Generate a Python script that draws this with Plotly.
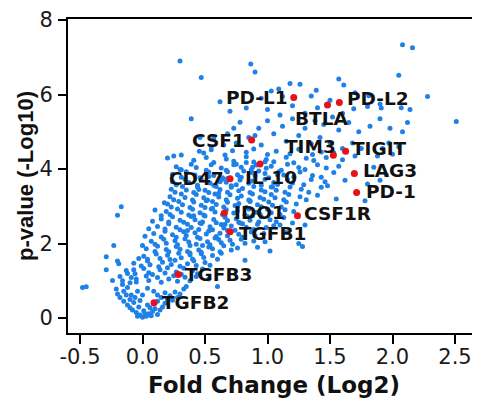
import plotly.graph_objects as go

# ---------------- data ----------------
# labelled genes (Fold Change Log2, -Log10 p-value)
gene_names = ["PD-L1", "BTLA", "PD-L2", "CSF1", "TIM3", "TIGIT", "IL-10", "CD47",
              "LAG3", "PD-1", "IDO1", "CSF1R", "TGFB1", "TGFB3", "TGFB2"]
gene_fc = [1.21, 1.48, 1.575, 0.873, 1.527, 1.625, 0.94, 0.70,
           1.695, 1.713, 0.655, 1.24, 0.70, 0.287, 0.092]
gene_logp = [5.92, 5.72, 5.79, 4.78, 4.37, 4.48, 4.14, 3.74,
             3.88, 3.37, 2.82, 2.75, 2.32, 1.17, 0.41]

# all other genes as (fold change, -log10 p)
background_genes = [
    # bottom of the V
    (0.0, 0.02), (-0.02, 0.08), (0.03, 0.05), (0.05, 0.12), (-0.05, 0.15), (0.08, 0.18),
    (-0.08, 0.22), (0.01, 0.2), (0.1, 0.25), (-0.1, 0.28), (0.12, 0.1), (0.06, 0.28),
    (-0.03, 0.3), (0.14, 0.22), (0.04, 0.35), (-0.12, 0.35), (0.16, 0.3), (0.09, 0.38),
    (-0.07, 0.42), (0.02, 0.12), (-0.04, 0.05), (0.07, 0.06),
    # two arms
    (-0.15, 0.45), (-0.18, 0.55), (-0.1, 0.5), (-0.2, 0.65), (-0.13, 0.62), (-0.06, 0.55),
    (0.12, 0.45), (0.18, 0.4), (0.2, 0.5), (0.15, 0.55), (0.24, 0.48), (0.22, 0.6),
    (0.28, 0.55), (0.3, 0.65), (0.18, 0.68), (0.26, 0.7), (0.12, 0.62), (0.33, 0.78),
    (0.35, 0.85), (-0.15, 0.72), (-0.12, 0.82), (-0.09, 0.62), (-0.04, 0.72), (-0.02, 0.47),
    (0.0, 0.62), (-0.16, 0.9), (-0.1, 0.95), (-0.21, 0.78), (0.04, 0.8), (0.09, 0.72),
    # far left outliers
    (-0.48, 0.82), (-0.45, 0.84), (-0.29, 1.65), (-0.29, 1.3), (-0.23, 1.95), (-0.19, 1.46),
    (-0.2, 1.53), (-0.2, 2.76), (-0.17, 2.99), (-0.24, 1.01), (-0.12, 1.2), (-0.07, 1.3),
    (-0.05, 1.05), (-0.18, 1.12), (0.6, 0.85), (0.53, 1.05),
    # main band, bottom to top
    (-0.16, 1.0), (-0.09, 1.09), (-0.05, 0.97), (0.03, 1.13), (0.05, 1.01), (0.12, 1.09),
    (0.15, 0.96), (0.21, 1.05), (0.25, 1.14), (0.28, 0.99), (0.34, 1.1), (0.38, 1.0), (0.43, 1.12),
    (-0.13, 1.28), (-0.06, 1.19), (0.01, 1.33), (0.05, 1.22), (0.08, 1.17), (0.14, 1.3),
    (0.18, 1.21), (0.2, 1.35), (0.27, 1.24), (0.31, 1.18), (0.33, 1.34), (0.4, 1.27), (0.44, 1.19),
    (0.48, 1.32),
    (-0.07, 1.47), (-0.01, 1.4), (0.04, 1.53), (0.06, 1.43), (0.13, 1.38), (0.16, 1.5),
    (0.23, 1.44), (0.26, 1.55), (0.3, 1.39), (0.36, 1.46), (0.41, 1.54), (0.43, 1.41), (0.5, 1.49),
    (0.54, 1.42),
    (0.01, 1.66), (0.04, 1.58), (0.11, 1.72), (0.14, 1.6), (0.2, 1.69), (0.22, 1.57), (0.29, 1.74),
    (0.31, 1.62), (0.38, 1.7), (0.4, 1.59), (0.47, 1.73), (0.49, 1.63), (0.56, 1.68), (0.6, 1.58),
    (0.63, 1.74),
    (0.03, 1.86), (0.1, 1.79), (0.12, 1.93), (0.19, 1.84), (0.21, 1.78), (0.27, 1.92), (0.3, 1.85),
    (0.36, 1.79), (0.38, 1.95), (0.45, 1.83), (0.47, 1.77), (0.53, 1.91), (0.56, 1.86), (0.62, 1.78),
    (0.65, 1.94), (0.71, 1.83), (0.76, 1.88),
    (0.07, 2.06), (0.1, 1.98), (0.17, 2.12), (0.19, 2.01), (0.26, 2.08), (0.28, 1.97), (0.34, 2.13),
    (0.37, 2.04), (0.43, 1.98), (0.46, 2.14), (0.52, 2.05), (0.54, 1.97), (0.61, 2.11), (0.63, 2.02),
    (0.7, 2.09), (0.72, 1.98), (0.79, 2.12), (0.82, 2.01), (0.89, 2.07),
    (0.09, 2.27), (0.15, 2.18), (0.18, 2.33), (0.24, 2.24), (0.27, 2.17), (0.33, 2.32), (0.35, 2.22),
    (0.42, 2.29), (0.44, 2.17), (0.51, 2.26), (0.53, 2.34), (0.59, 2.19), (0.62, 2.28), (0.68, 2.21),
    (0.71, 2.33), (0.77, 2.25), (0.8, 2.17), (0.87, 2.31), (0.9, 2.21), (0.97, 2.27),
    (0.12, 2.46), (0.18, 2.39), (0.21, 2.53), (0.27, 2.44), (0.3, 2.37), (0.36, 2.52), (0.39, 2.43),
    (0.45, 2.38), (0.47, 2.54), (0.54, 2.45), (0.56, 2.37), (0.63, 2.51), (0.65, 2.42), (0.71, 2.47),
    (0.74, 2.36), (0.8, 2.53), (0.83, 2.44), (0.89, 2.38), (0.92, 2.52), (0.99, 2.43), (1.05, 2.48),
    (0.15, 2.66), (0.21, 2.58), (0.24, 2.72), (0.3, 2.63), (0.33, 2.57), (0.39, 2.73), (0.42, 2.64),
    (0.48, 2.58), (0.5, 2.74), (0.57, 2.65), (0.59, 2.56), (0.66, 2.71), (0.68, 2.62), (0.75, 2.67),
    (0.77, 2.57), (0.84, 2.73), (0.86, 2.63), (0.93, 2.58), (0.95, 2.72), (1.02, 2.64), (1.07, 2.59),
    (1.13, 2.7),
    (0.19, 2.86), (0.22, 2.78), (0.28, 2.93), (0.31, 2.84), (0.37, 2.77), (0.4, 2.92), (0.46, 2.83),
    (0.49, 2.77), (0.55, 2.93), (0.58, 2.85), (0.64, 2.78), (0.67, 2.91), (0.73, 2.82), (0.76, 2.88),
    (0.82, 2.77), (0.85, 2.93), (0.91, 2.84), (0.94, 2.79), (1.0, 2.92), (1.03, 2.83), (1.1, 2.78),
    (1.14, 2.91), (1.21, 2.86),
    (0.2, 3.06), (0.23, 2.98), (0.29, 3.13), (0.32, 3.04), (0.38, 2.97), (0.41, 3.12), (0.47, 3.03),
    (0.5, 2.97), (0.56, 3.13), (0.59, 3.05), (0.65, 2.98), (0.68, 3.11), (0.74, 3.02), (0.77, 3.08),
    (0.83, 2.97), (0.86, 3.13), (0.92, 3.04), (0.95, 2.99), (1.01, 3.12), (1.04, 3.03), (1.11, 2.98),
    (1.15, 3.12), (1.23, 3.06),
    (0.22, 3.26), (0.25, 3.18), (0.31, 3.33), (0.34, 3.24), (0.4, 3.17), (0.43, 3.32), (0.49, 3.23),
    (0.52, 3.17), (0.58, 3.33), (0.61, 3.25), (0.67, 3.18), (0.7, 3.31), (0.76, 3.22), (0.79, 3.28),
    (0.85, 3.17), (0.88, 3.33), (0.94, 3.24), (0.97, 3.19), (1.03, 3.32), (1.06, 3.23), (1.13, 3.18),
    (1.17, 3.32), (1.26, 3.26), (1.31, 3.18),
    (0.23, 3.46), (0.26, 3.38), (0.32, 3.53), (0.35, 3.44), (0.41, 3.37), (0.44, 3.52), (0.5, 3.43),
    (0.53, 3.37), (0.59, 3.53), (0.62, 3.45), (0.68, 3.38), (0.71, 3.51), (0.77, 3.42), (0.8, 3.48),
    (0.86, 3.37), (0.89, 3.53), (0.95, 3.44), (0.98, 3.39), (1.04, 3.52), (1.07, 3.43), (1.14, 3.38),
    (1.18, 3.52), (1.27, 3.46), (1.33, 3.38), (1.43, 3.51),
    (0.24, 3.66), (0.27, 3.58), (0.34, 3.73), (0.37, 3.64), (0.44, 3.57), (0.47, 3.72), (0.54, 3.63),
    (0.57, 3.57), (0.64, 3.73), (0.67, 3.65), (0.75, 3.58), (0.78, 3.71), (0.85, 3.62), (0.88, 3.68),
    (0.95, 3.57), (0.98, 3.73), (1.05, 3.64), (1.08, 3.59), (1.16, 3.72), (1.2, 3.63), (1.29, 3.58),
    (1.35, 3.72), (1.46, 3.66),
    (0.24, 3.86), (0.31, 3.78), (0.35, 3.93), (0.42, 3.84), (0.46, 3.77), (0.53, 3.92), (0.57, 3.83),
    (0.64, 3.77), (0.68, 3.93), (0.76, 3.85), (0.79, 3.78), (0.87, 3.91), (0.9, 3.82), (0.98, 3.88),
    (1.01, 3.77), (1.09, 3.93), (1.13, 3.84), (1.21, 3.79), (1.26, 3.92), (1.36, 3.83), (1.43, 3.78),
    (1.53, 3.91),
    (0.27, 4.06), (0.31, 3.98), (0.39, 4.13), (0.43, 4.04), (0.51, 3.97), (0.55, 4.12), (0.63, 4.03),
    (0.67, 3.97), (0.75, 4.13), (0.79, 4.05), (0.87, 3.98), (0.91, 4.11), (0.99, 4.02), (1.03, 4.08),
    (1.11, 3.97), (1.16, 4.13), (1.25, 4.04), (1.3, 3.99), (1.4, 4.12), (1.47, 4.03), (1.57, 4.08),
    (0.2, 4.3), (0.25, 4.35), (0.31, 4.38), (0.41, 4.24), (0.51, 4.31), (0.57, 4.18), (0.67, 4.27),
    (0.73, 4.21), (0.83, 4.33), (0.89, 4.19), (0.99, 4.26), (1.05, 4.2), (1.15, 4.32), (1.21, 4.17),
    (1.31, 4.29), (1.37, 4.23), (1.47, 4.31), (1.6, 4.25),
    (0.49, 4.43), (0.55, 4.52), (0.66, 4.38), (0.72, 4.49), (0.83, 4.45), (0.89, 4.54), (1.0, 4.39),
    (1.07, 4.48), (1.18, 4.41), (1.25, 4.53), (1.36, 4.39), (1.43, 4.46), (1.53, 4.44),
    # extra density in the core
    (0.58, 3.55), (0.68, 3.75), (0.78, 3.78), (0.88, 4.05), (0.98, 4.2), (1.08, 3.85),
    (0.62, 3.66), (0.73, 4.12), (0.83, 4.18), (0.93, 3.95), (1.03, 3.52), (0.53, 3.8),
    (0.45, 3.45), (0.46, 2.55), (0.56, 2.95), (0.66, 2.52), (0.76, 2.98), (0.86, 3.15),
    (0.36, 2.35), (0.41, 2.75), (0.51, 3.15), (0.61, 3.35), (0.71, 3.55), (0.81, 3.95),
    (0.38, 1.75), (0.48, 1.95), (0.58, 2.15), (0.68, 2.35), (0.78, 2.55), (0.88, 2.75),
    (0.175, 3.1), (0.3, 3.99), (0.455, 4.48), (0.1, 2.9), (0.08, 2.6), (0.05, 2.4), (0.02, 2.2),
    (0.0, 1.95), (-0.03, 1.6), (0.15, 2.75),
    # sparse right part and top
    (1.3, 2.5), (1.28, 1.92), (1.25, 2.0), (1.02, 1.8), (0.82, 1.55), (1.15, 2.3), (1.2, 2.55),
    (1.1, 2.5), (0.92, 1.9), (0.98, 2.05),
    (1.4, 3.3), (1.48, 3.55), (1.55, 3.2), (1.62, 3.7), (1.7, 4.35), (1.78, 3.15), (1.8, 3.6),
    (1.85, 4.05), (1.88, 4.35), (1.92, 4.55), (1.97, 4.7), (2.0, 4.4), (2.05, 4.6), (1.95, 3.85),
    (1.9, 3.7), (1.75, 4.55), (1.68, 4.7), (1.6, 4.55), (1.5, 4.7), (1.42, 4.85), (1.57, 5.05),
    (1.65, 5.25), (1.73, 5.0), (1.82, 5.15), (1.9, 5.35), (1.98, 5.1), (2.08, 5.0), (2.12, 5.25),
    (2.14, 5.6), (2.07, 5.65), (1.91, 5.64), (1.8, 5.68), (1.69, 5.62), (1.6, 5.5), (1.52, 5.4),
    (1.45, 5.2), (1.38, 5.3), (1.3, 5.1), (1.25, 4.9), (1.2, 5.35), (1.12, 5.15), (1.05, 4.95),
    (1.0, 5.3), (0.93, 5.1), (0.85, 4.85), (0.78, 5.26), (0.73, 5.1), (0.83, 5.64), (0.7, 5.55),
    (0.62, 5.81), (0.57, 4.83), (0.46, 4.85), (0.39, 5.35), (0.65, 4.65), (0.55, 4.6), (0.75, 4.7),
    (0.95, 4.65), (1.15, 4.75), (1.35, 4.68), (0.68, 4.95), (0.9, 4.9), (1.1, 5.45), (1.3, 5.5),
    (1.4, 5.65), (1.0, 5.6), (1.2, 5.7), (1.5, 5.85), (1.35, 5.96), (1.39, 6.12), (1.03, 6.1),
    (1.09, 6.15), (1.18, 6.3), (1.26, 6.28), (1.57, 6.42), (1.61, 6.26), (1.81, 5.97), (1.9, 5.75),
    (2.05, 6.52), (2.28, 5.95), (2.51, 5.28), (0.47, 6.46), (0.3, 6.9), (0.866, 6.82), (0.9, 6.61),
    (2.08, 7.34), (2.16, 7.26), (0.95, 5.9), (1.12, 5.95), (1.7, 6.05),
]

x_tick_values = [-0.5, 0.0, 0.5, 1.0, 1.5, 2.0, 2.5]
x_tick_labels = ["-0.5", "0.0", "0.5", "1.0", "1.5", "2.0", "2.5"]
y_tick_values = [0, 2, 4, 6, 8]

bg_fc = [p[0] for p in background_genes]
bg_logp = [p[1] for p in background_genes]

# ---------------- styling / layout ----------------
# label placement relative to its point (pixels): anchor, xshift, yshift
label_style = {
    "PD-L1": ("right", -5, 0), "BTLA": ("center", -6, -13), "PD-L2": ("left", 7, 4),
    "CSF1": ("right", -6, 0), "TIM3": ("right", 4, 9), "TIGIT": ("left", 5, 3),
    "IL-10": ("center", 11, -14), "CD47": ("right", -5, 0), "LAG3": ("left", 8, 3),
    "PD-1": ("left", 8, 1), "IDO1": ("left", 9, 1), "CSF1R": ("left", 5, 2),
    "TGFB1": ("left", 8, -2), "TGFB3": ("left", 6, 0), "TGFB2": ("left", 7, 0),
}

fig = go.Figure()
fig.add_trace(go.Scatter(
    x=bg_fc, y=bg_logp, mode="markers",
    marker=dict(color="#1f80e6", size=5, line=dict(width=0)),
    hoverinfo="skip", showlegend=False,
))
fig.add_trace(go.Scatter(
    x=gene_fc, y=gene_logp, mode="markers",
    marker=dict(color="#e8101a", size=7, line=dict(width=0)),
    text=gene_names, showlegend=False,
))

for name, gx, gy in zip(gene_names, gene_fc, gene_logp):
    anchor, dx, dy = label_style[name]
    fig.add_annotation(
        x=gx, y=gy, text=name, showarrow=False,
        xanchor=anchor, yanchor="middle", xshift=dx, yshift=dy, borderpad=0,
        font=dict(family="DejaVu Sans", size=18.5, color="#111111", weight="bold"),
    )

# the page body keeps an 8px default margin, so the figure is 8px smaller
fig.update_layout(
    width=472, height=393,
    margin=dict(l=60, r=0, t=9, b=68),
    paper_bgcolor="white", plot_bgcolor="white",
    xaxis=dict(
        range=[-0.596, 2.7], tickvals=x_tick_values, ticktext=x_tick_labels,
        showgrid=False, zeroline=False,
        showline=True, linecolor="black", linewidth=2, mirror=True,
        ticks="outside", ticklen=9, tickwidth=2, tickcolor="black",
        ticklabelstandoff=-5, ticklabeloverflow="allow",
        tickfont=dict(family="DejaVu Sans", size=21, color="#1a1a1a"),
        title=dict(text="Fold Change (Log2)", standoff=9,
                   font=dict(family="DejaVu Sans", size=23, color="#111111", weight="bold")),
    ),
    yaxis=dict(
        range=[-0.4, 8.03], tickvals=y_tick_values,
        showgrid=False, zeroline=False,
        showline=True, linecolor="black", linewidth=2, mirror=False,
        ticks="outside", ticklen=8, tickwidth=2, tickcolor="black",
        ticklabelstandoff=1, ticklabeloverflow="allow",
        tickfont=dict(family="DejaVu Sans", size=21, color="#1a1a1a"),
        title=dict(text="p-value (-Log10)", standoff=0,
                   font=dict(family="Liberation Sans", size=22, color="#111111", weight="bold")),
    ),
)

fig.write_html("out.html")
